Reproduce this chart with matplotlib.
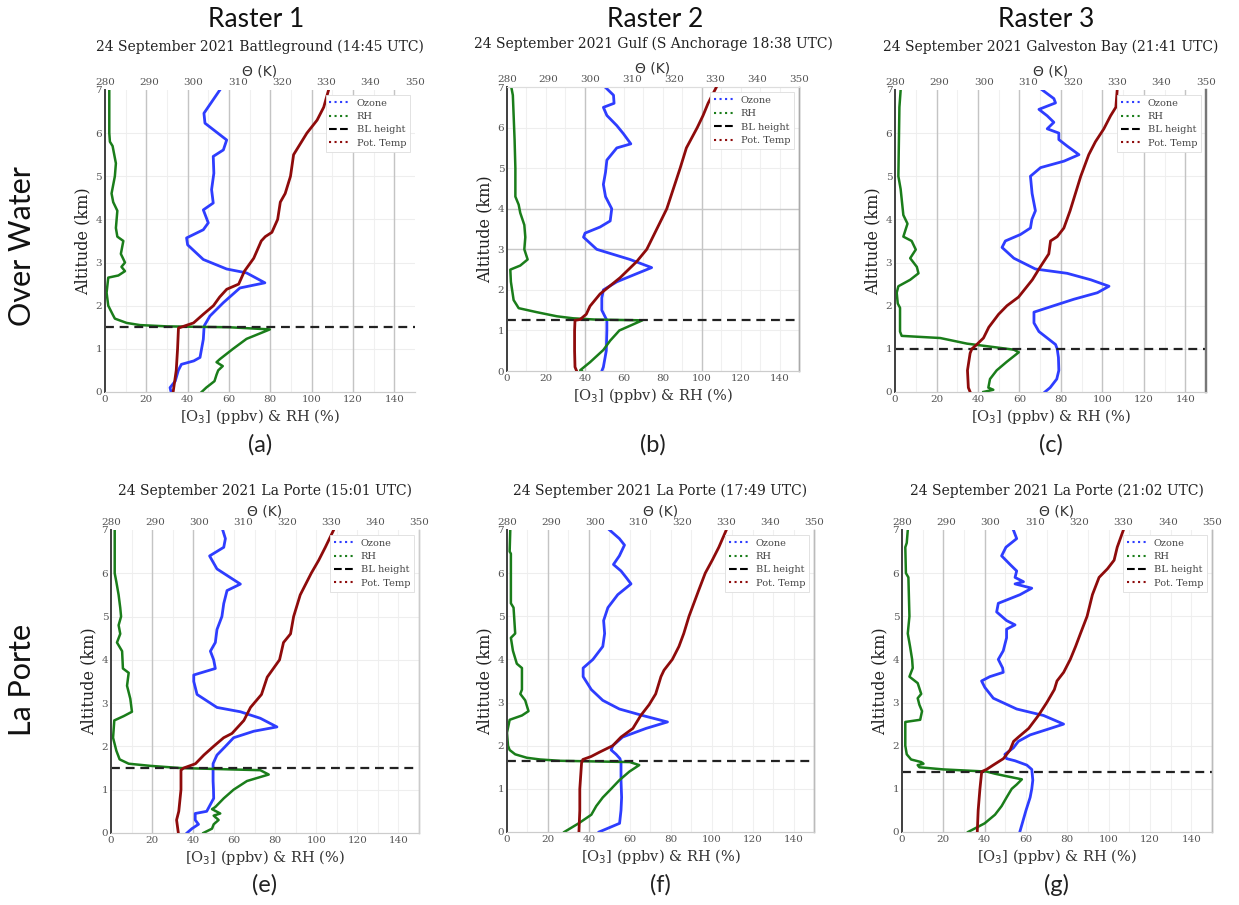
import matplotlib
matplotlib.use('Agg')
import matplotlib.pyplot as plt
from matplotlib.lines import Line2D
import numpy as np

# ozone / RH / potential temperature profiles, (altitude km, value)
o3_a = [(0, 32), (0.1, 31.5), (0.25, 34), (0.5, 35.5), (0.64, 37), (0.72, 43), (0.8, 46), (1.22, 47.6),
        (1.53, 48), (1.76, 50.8), (2.07, 57.3), (2.41, 65.3), (2.53, 77.4), (2.76, 68.5), (2.85, 58.9),
        (3.07, 47.6), (3.41, 40), (3.57, 39.5), (3.76, 47.6), (3.92, 50), (4.22, 47.6), (4.38, 52.4),
        (4.69, 51.6), (5.07, 52.7), (5.46, 52.4), (5.61, 57.3), (5.84, 58.9), (6.23, 48.4), (6.46, 47.9),
        (7.0, 55.6)]
rh_a = [(0, 46.8), (0.1, 49), (0.25, 53), (0.4, 54), (0.5, 54.8), (0.6, 57), (0.69, 54), (0.76, 55.6),
        (1.0, 62), (1.23, 68.5), (1.45, 79.8), (1.5, 60), (1.52, 30), (1.55, 17), (1.6, 10.5), (1.7, 4.8),
        (1.8, 3.7), (2.0, 1.6), (2.3, 0.8), (2.65, 1.6), (2.7, 6.5), (2.8, 9.7), (2.9, 8), (3.0, 9.7),
        (3.2, 7.7), (3.5, 8.9), (3.6, 6), (3.8, 5.3), (4.2, 6), (4.4, 4), (4.6, 3.2), (5.0, 4.8),
        (5.3, 5.3), (5.7, 3.7), (5.8, 2.4), (6.0, 2.1), (7.0, 2.1)]
th_a = [(0, 295.4), (0.5, 296.1), (1.0, 296.4), (1.48, 296.6), (1.52, 297.7), (1.6, 300), (1.8, 302.2),
        (2.0, 304.5), (2.2, 305.9), (2.38, 307.5), (2.5, 310.2), (2.8, 311.5), (3.1, 313.6), (3.5, 315.3),
        (3.6, 316.2), (3.7, 317.7), (4.0, 319), (4.4, 319.6), (4.6, 320.7), (5.0, 321.9), (5.5, 322.6),
        (6.0, 325.6), (6.3, 327.9), (6.6, 329.4), (7.0, 330.5)]

o3_b = [(0, 48.7), (0.1, 49.5), (0.5, 51), (1.0, 51.3), (1.25, 51.3), (1.5, 48.7), (1.8, 48.7), (2.0, 49.5),
        (2.2, 56.4), (2.4, 66.6), (2.55, 74.3), (2.75, 63.2), (3.0, 46.1), (3.3, 39.3), (3.4, 40.1),
        (3.55, 47.8), (3.7, 53), (4.0, 53.8), (4.3, 50.6), (4.6, 49.5), (4.9, 50.6), (5.2, 51.3),
        (5.5, 56.4), (5.6, 63.6), (5.85, 59.8), (6.05, 56.4), (6.3, 51.3), (6.5, 49.5), (6.6, 55),
        (6.8, 54.7), (7.0, 50.4)]
rh_b = [(0, 38.4), (0.02, 37.6), (0.22, 42.7), (0.52, 49.5), (0.75, 53), (0.93, 56.4), (1.0, 57.7),
        (1.25, 69.5), (1.27, 45), (1.3, 34), (1.35, 25.6), (1.45, 15.4), (1.55, 6), (1.75, 3.4), (2.2, 2),
        (2.5, 1.7), (2.6, 6.8), (2.75, 10.6), (3.0, 8.9), (3.3, 9.4), (3.6, 8.9), (3.9, 6.8), (4.1, 6),
        (4.3, 4.3), (5.0, 4.3), (5.7, 3.9), (6.8, 3), (7.0, 2.2)]
th_b = [(0, 296.7), (0.1, 296.3), (0.5, 296.2), (1.0, 296.2), (1.25, 296.3), (1.27, 297.5), (1.4, 299),
        (1.6, 299.9), (1.9, 302.3), (2.1, 304.7), (2.3, 307.1), (2.5, 309.1), (2.7, 311.1), (3.0, 313.5),
        (3.5, 315.9), (4.0, 318.3), (4.5, 319.9), (5.0, 321.5), (5.5, 323), (6.0, 325.6), (6.3, 327),
        (6.6, 328.2), (7.0, 330.2)]

o3_c = [(0, 72.3), (0.1, 74.8), (0.3, 78), (0.5, 79), (0.8, 78.8), (1.0, 78.2), (1.1, 77.4), (1.25, 73.4),
        (1.4, 69.4), (1.6, 67), (1.85, 67), (2.0, 76.6), (2.15, 86.3), (2.3, 97.6), (2.45, 103.2),
        (2.6, 94.4), (2.75, 83), (2.85, 67.7), (3.1, 57.3), (3.35, 51.6), (3.5, 53.2), (3.65, 60.5),
        (3.8, 65.3), (4.0, 66), (4.2, 67.7), (4.6, 66.1), (5.0, 65.3), (5.2, 70.2), (5.35, 81.5),
        (5.5, 88.7), (5.7, 83), (5.85, 79), (6.0, 79), (6.1, 73.4), (6.25, 76.6), (6.4, 73.4),
        (6.55, 69.4), (6.7, 77.4), (6.8, 76.6), (7.0, 71)]
rh_c = [(0, 42.6), (0.05, 47.4), (0.1, 45), (0.3, 45.8), (0.5, 49), (0.7, 53.9), (0.92, 59.7), (0.98, 57.3),
        (1.05, 46), (1.12, 34.7), (1.25, 21.8), (1.3, 3.2), (1.4, 2.4), (1.95, 2.4), (2.05, 1.3), (2.3, 0.8),
        (2.45, 1.6), (2.6, 7.3), (2.75, 11.3), (2.9, 10.5), (3.1, 7.3), (3.3, 10), (3.5, 8), (3.6, 4),
        (3.9, 6), (4.1, 4), (4.7, 2.7), (5.0, 1.6), (6.6, 2.1), (7.0, 2.7)]
th_c = [(0, 296.9), (0.1, 296.5), (0.5, 296.3), (0.9, 296.9), (1.0, 297.3), (1.1, 298.4), (1.25, 299.9),
        (1.5, 301.1), (1.8, 303.3), (2.0, 305.2), (2.2, 307.8), (2.6, 310.9), (2.9, 312.7), (3.2, 314.6),
        (3.5, 315), (3.6, 316.5), (3.8, 318), (4.2, 319.4), (4.5, 320.3), (5.0, 321.8), (5.5, 323.6),
        (5.8, 325.1), (6.1, 327), (6.4, 328.5), (6.6, 329.7), (7.0, 330)]

o3_e = [(0, 37), (0.1, 39.4), (0.2, 42.6), (0.3, 41), (0.45, 41), (0.5, 46.6), (0.8, 50), (1.0, 49.9),
        (1.2, 49.7), (1.6, 49.7), (1.8, 51.6), (2.0, 55.7), (2.2, 59.7), (2.35, 69.5), (2.45, 80.8),
        (2.65, 72.7), (2.8, 63), (2.9, 51.6), (3.2, 41.9), (3.5, 40.3), (3.65, 40.3), (3.8, 50.8),
        (4.0, 50), (4.2, 48.4), (4.4, 50.8), (4.7, 51.6), (5.0, 54), (5.3, 54.9), (5.6, 56.5), (5.75, 63),
        (5.9, 58.1), (6.1, 51.6), (6.4, 48), (6.6, 54.9), (6.8, 55.7), (7.0, 54.4)]
rh_e = [(0, 45), (0.1, 49.2), (0.2, 50), (0.3, 52.4), (0.4, 50), (0.45, 53.2), (0.55, 49.2), (0.6, 50.8),
        (0.8, 54.9), (1.0, 59.7), (1.2, 66.2), (1.35, 76.8), (1.45, 72.7), (1.5, 33.8), (1.55, 19.2),
        (1.6, 8.6), (1.7, 4.2), (1.9, 2.6), (2.2, 1), (2.6, 1.6), (2.7, 6.2), (2.8, 10.2), (3.1, 9.4),
        (3.4, 7.8), (3.7, 8.6), (3.8, 5.8), (4.2, 5.4), (4.4, 2.9), (4.6, 4.5), (4.8, 3.7), (5.0, 4.9),
        (5.2, 4.5), (5.5, 3.7), (5.8, 2.6), (6.0, 1.8), (7.0, 1.8)]
th_e = [(0, 295.3), (0.3, 294.9), (0.5, 295.4), (1.0, 295.9), (1.45, 295.9), (1.5, 296.5), (1.6, 299.2),
        (1.8, 301.1), (2.0, 303.3), (2.2, 305.6), (2.3, 307.5), (2.6, 310.2), (2.9, 311.7), (3.2, 314.2),
        (3.6, 315.5), (3.7, 316.2), (4.0, 318.3), (4.4, 319.2), (4.6, 320.8), (5.0, 321.5), (5.5, 323),
        (6.0, 325.5), (6.3, 327.2), (6.6, 328.7), (7.0, 330.6)]

o3_f = [(0, 45), (0.1, 50), (0.2, 55), (0.5, 55.7), (0.8, 56), (1.2, 55.7), (1.6, 55.7), (1.7, 55.2),
        (1.8, 53.3), (1.9, 50.9), (2.0, 51.7), (2.2, 56.5), (2.4, 67.9), (2.55, 78.4), (2.7, 66.2),
        (2.85, 54.9), (3.05, 46.8), (3.3, 41.2), (3.6, 37.2), (3.8, 37.2), (4.0, 42), (4.3, 46.8),
        (4.6, 47.7), (4.9, 47.2), (5.2, 49.3), (5.5, 54.1), (5.75, 60.6), (5.9, 58.2), (6.05, 55.7),
        (6.2, 52), (6.4, 54.9), (6.65, 57.4), (6.8, 54.9), (7.0, 50.1)]
rh_f = [(0, 28), (0.2, 35), (0.4, 41.2), (0.6, 43.6), (0.8, 46.8), (1.0, 50.9), (1.2, 54.9), (1.4, 59.8),
        (1.55, 64.6), (1.62, 60), (1.65, 25.8), (1.68, 16.2), (1.72, 9.7), (1.8, 4), (1.9, 1.3), (2.0, 0.5),
        (2.3, 0), (2.6, 1.3), (2.7, 7.3), (2.8, 10.5), (3.05, 8.9), (3.2, 6.5), (3.3, 7.3), (3.8, 7.3),
        (3.9, 4.8), (4.2, 2.9), (4.5, 1.9), (4.6, 4), (5.2, 3.2), (5.3, 1.9), (6.45, 1.9), (6.5, 1.3),
        (7.0, 1.6)]
th_f = [(0, 296.4), (0.5, 296.6), (1.0, 296.6), (1.6, 297), (1.68, 297.3), (1.75, 299.2), (1.85, 301.1),
        (2.0, 304.1), (2.2, 306), (2.4, 308.7), (2.7, 310.5), (2.95, 312.4), (3.2, 313.9), (3.6, 315.1),
        (3.75, 315.8), (4.0, 317.7), (4.3, 319.2), (4.6, 320.3), (5.0, 321.5), (5.6, 323.7), (6.0, 325.2),
        (6.3, 326.8), (6.6, 328.3), (7.0, 330)]

o3_g = [(0, 57), (0.5, 60), (0.8, 62), (1.0, 62.8), (1.2, 63.3), (1.45, 62.8), (1.55, 60.4), (1.65, 54.7),
        (1.7, 50.6), (1.8, 49.8), (1.95, 53.9), (2.1, 56.3), (2.25, 62), (2.4, 71.8), (2.5, 78.2),
        (2.7, 68.5), (2.85, 55.5), (3.1, 44.2), (3.35, 40.1), (3.5, 38.5), (3.6, 42.5), (3.7, 49),
        (3.8, 48.7), (4.0, 46.6), (4.2, 49), (4.5, 50.6), (4.7, 50.6), (4.8, 54.7), (4.9, 50.6), (5.1, 45.8),
        (5.3, 46.6), (5.5, 57.1), (5.65, 62.8), (5.75, 54.7), (5.8, 58.8), (5.9, 54.7), (6.05, 55.5),
        (6.2, 52.3), (6.4, 48.2), (6.6, 50.3), (6.8, 55.5), (7.0, 53.9)]
rh_g = [(0, 32), (0.2, 40), (0.4, 45), (0.6, 48.2), (0.8, 50.6), (1.0, 53.1), (1.1, 55.5), (1.22, 58),
        (1.3, 49.8), (1.35, 45), (1.4, 40.9), (1.45, 20), (1.5, 8.4), (1.55, 7.6), (1.58, 10.4), (1.62, 9.3),
        (1.68, 4.4), (1.8, 2.3), (2.0, 1.6), (2.55, 1.6), (2.6, 8.8), (2.8, 9.7), (2.95, 8.4), (3.1, 7.6),
        (3.2, 9.3), (3.45, 7.6), (3.6, 3.6), (3.8, 5.2), (4.0, 4.9), (4.3, 3.9), (4.6, 2.8), (5.0, 3.6),
        (5.9, 3.1), (6.0, 1.9), (6.6, 1.6), (6.7, 2.3), (7.0, 2.8)]
th_g = [(0, 297), (0.5, 297.2), (1.0, 297.6), (1.4, 298), (1.45, 299.1), (1.55, 300.6), (1.7, 302.9),
        (1.9, 304.4), (2.1, 305.2), (2.2, 306.3), (2.4, 308.6), (2.7, 310.8), (3.0, 312.7), (3.3, 314.4),
        (3.5, 315), (3.7, 316.5), (4.0, 318), (4.3, 319.2), (4.6, 320.3), (5.0, 321.8), (5.5, 323),
        (5.9, 324.5), (6.1, 326.4), (6.3, 327.9), (6.6, 328.6), (7.0, 330)]

bl_heights = [1.5, 1.27, 1.0, 1.5, 1.65, 1.4]
titles = ['24 September 2021 Battleground (14:45 UTC)',
          '24 September 2021 Gulf (S Anchorage 18:38 UTC)',
          '24 September 2021 Galveston Bay (21:41 UTC)',
          '24 September 2021 La Porte (15:01 UTC)',
          '24 September 2021 La Porte (17:49 UTC)',
          '24 September 2021 La Porte (21:02 UTC)']
panel_tags = ['(a)', '(b)', '(c)', '(e)', '(f)', '(g)']
col_names = ['Raster 1', 'Raster 2', 'Raster 3']
row_names = ['Over Water', 'La Porte']

o3_all = [o3_a, o3_b, o3_c, o3_e, o3_f, o3_g]
rh_all = [rh_a, rh_b, rh_c, rh_e, rh_f, rh_g]
th_all = [th_a, th_b, th_c, th_e, th_f, th_g]

# axes boxes [left, bottom, width, height] in figure fraction
boxes = [[0.0847, 0.5669, 0.2502, 0.3337],
         [0.4092, 0.5900, 0.2357, 0.3138],
         [0.7224, 0.5669, 0.2510, 0.3337],
         [0.0896, 0.0796, 0.2486, 0.3348],
         [0.4092, 0.0807, 0.2478, 0.3337],
         [0.7280, 0.0807, 0.2502, 0.3337]]
strong_vgrid = [[20, 40, 60, 80, 100, 120, 140], [40, 100], [20, 40, 60, 80, 100, 120, 140],
                [20, 40], [20, 40], [20, 40]]
right_spine = ['none', '#aaaaaa', '#777777', '#cccccc', '#bbbbbb', '#bbbbbb']

c_o3 = '#2e3dff'
c_rh = '#1a7d1a'
c_th = '#8e0b0b'
serif = 'DejaVu Serif'

fig = plt.figure(figsize=(12.39, 9.05), dpi=100)

for i in range(6):
    ax = fig.add_axes(boxes[i])
    o3 = np.array(o3_all[i])
    rh = np.array(rh_all[i])
    th = np.array(th_all[i])

    # grid: faint everywhere, stronger on selected RH/O3 ticks
    for v in range(10, 150, 10):
        ax.axvline(v, color='#f0f0f0', lw=0.8, zorder=0)
    for h in range(1, 7):
        ax.axhline(h, color='#eeeeee', lw=0.8, zorder=0)
    for v in strong_vgrid[i]:
        ax.axvline(v, color='#c4c4c4', lw=1.0, zorder=0)
    if i == 1:
        for h in [3, 4]:
            ax.axhline(h, color='#c8c8c8', lw=1.0, zorder=0)

    ax.plot(o3[:, 1], o3[:, 0], color=c_o3, lw=2.0, zorder=3)
    ax.plot(rh[:, 1], rh[:, 0], color=c_rh, lw=1.8, zorder=3)
    ax.axhline(bl_heights[i], color='#222222', ls='--', lw=1.6, dashes=(4, 2.6), zorder=4)

    ax.set_xlim(0, 150)
    ax.set_ylim(0, 7)
    ax.set_xticks(np.arange(0, 150, 20))
    ax.set_yticks(np.arange(0, 8, 1))
    ax.tick_params(labelsize=7.5, colors='#555555', length=0, pad=2)
    for lab in ax.get_xticklabels() + ax.get_yticklabels():
        lab.set_family(serif)
    ax.set_xlabel('[O$_3$] (ppbv) & RH (%)', family=serif, fontsize=10.5, color='#333333', labelpad=2)
    ax.set_ylabel('Altitude (km)', family=serif, fontsize=11.5, color='#222222', labelpad=3)

    ax2 = ax.twiny()
    ax2.plot(th[:, 1], th[:, 0], color=c_th, lw=2.0, zorder=3)
    ax2.set_xlim(280, 350)
    ax2.set_ylim(0, 7)
    ax2.set_xticks(np.arange(280, 351, 10))
    ax2.tick_params(labelsize=7.5, colors='#555555', length=0, pad=2)
    for lab in ax2.get_xticklabels():
        lab.set_family(serif)
    ax2.set_xlabel('Θ (K)', fontsize=10, color='#333333', labelpad=2)

    for a in (ax, ax2):
        a.spines['left'].set_color('#444444')
        a.spines['left'].set_linewidth(1.4)
        a.spines['bottom'].set_color('#cccccc')
        a.spines['top'].set_color('#dddddd' if i == 1 else 'none')
        a.spines['right'].set_color(right_spine[i])
        a.spines['right'].set_linewidth(1.6 if i == 2 else 1.0)

    handles = [Line2D([], [], color=c_o3, ls=':', lw=1.5),
               Line2D([], [], color=c_rh, ls=':', lw=1.5),
               Line2D([], [], color='k', ls='--', lw=1.5),
               Line2D([], [], color=c_th, ls=':', lw=1.5)]
    leg = ax2.legend(handles, ['Ozone', 'RH', 'BL height', 'Pot. Temp'], loc='upper right',
                     prop={'family': serif, 'size': 7}, handlelength=2.0, labelspacing=0.45,
                     borderpad=0.4, fancybox=False, framealpha=1.0)
    leg.get_frame().set_edgecolor('#dddddd')
    leg.get_frame().set_linewidth(0.6)
    for t in leg.get_texts():
        t.set_color('#444444')

    title_off = 31 if i < 3 else 28
    ax.annotate(titles[i], xy=(0.5, 1), xycoords='axes fraction', xytext=(0, title_off),
                textcoords='offset points', ha='center', va='center', family=serif,
                fontsize=10, color='#222222')

    cx = boxes[i][0] + boxes[i][2] / 2
    ty = 0.508 if i < 3 else 0.022
    fig.text(cx, ty, panel_tags[i], ha='center', va='center', fontsize=17, family='Lato', color='#222222')

for k, x in enumerate([0.207, 0.529, 0.844]):
    fig.text(x, 0.979, col_names[k], ha='center', va='center', fontsize=19, family='Lato', color='#111111')
for k, y in enumerate([0.728, 0.249]):
    fig.text(0.018, y, row_names[k], ha='center', va='center', rotation=90, fontsize=22,
             family='Lato', color='#111111')

fig.savefig('out.png', dpi=100)
